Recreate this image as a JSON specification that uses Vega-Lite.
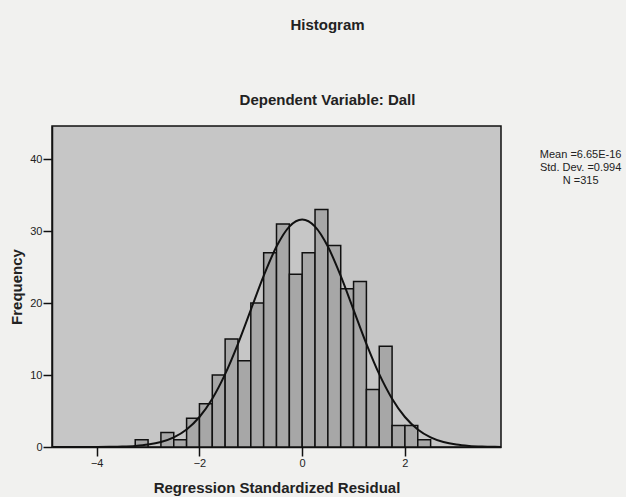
{
  "$schema": "https://vega.github.io/schema/vega-lite/v6.json",
  "width": 449,
  "height": 321,
  "autosize": "none",
  "padding": {"left": 52, "top": 126, "right": 125, "bottom": 50},
  "background": "#f1f1ef",
  "config": {
    "view": {"fill": "#c6c6c6", "stroke": "#111111", "strokeWidth": 1.5},
    "font": "Liberation Sans"
  },
  "title": {
    "text": "Histogram",
    "subtitle": "Dependent Variable: Dall",
    "anchor": "middle",
    "dx": 51,
    "fontSize": 15,
    "fontWeight": "bold",
    "color": "#222222",
    "subtitleFontSize": 15,
    "subtitleFontWeight": "bold",
    "subtitleColor": "#222222",
    "subtitleFont": "Liberation Sans",
    "subtitlePadding": 60,
    "offset": 18
  },
  "datasets": {
    "bins": [
      {"bin_start": -3.25, "bin_end": -3.0, "count": 1},
      {"bin_start": -2.75, "bin_end": -2.5, "count": 2},
      {"bin_start": -2.5, "bin_end": -2.25, "count": 1},
      {"bin_start": -2.25, "bin_end": -2.0, "count": 4},
      {"bin_start": -2.0, "bin_end": -1.75, "count": 6},
      {"bin_start": -1.75, "bin_end": -1.5, "count": 10},
      {"bin_start": -1.5, "bin_end": -1.25, "count": 15},
      {"bin_start": -1.25, "bin_end": -1.0, "count": 12},
      {"bin_start": -1.0, "bin_end": -0.75, "count": 20},
      {"bin_start": -0.75, "bin_end": -0.5, "count": 27},
      {"bin_start": -0.5, "bin_end": -0.25, "count": 31},
      {"bin_start": -0.25, "bin_end": 0.0, "count": 24},
      {"bin_start": 0.0, "bin_end": 0.25, "count": 27},
      {"bin_start": 0.25, "bin_end": 0.5, "count": 33},
      {"bin_start": 0.5, "bin_end": 0.75, "count": 28},
      {"bin_start": 0.75, "bin_end": 1.0, "count": 22},
      {"bin_start": 1.0, "bin_end": 1.25, "count": 23},
      {"bin_start": 1.25, "bin_end": 1.5, "count": 8},
      {"bin_start": 1.5, "bin_end": 1.75, "count": 14},
      {"bin_start": 1.75, "bin_end": 2.0, "count": 3},
      {"bin_start": 2.0, "bin_end": 2.25, "count": 3},
      {"bin_start": 2.25, "bin_end": 2.5, "count": 1}
    ],
    "curve": [
      {"residual": -4.87, "freq": 0.0002},
      {"residual": -4.5, "freq": 0.0011},
      {"residual": -4.25, "freq": 0.0034},
      {"residual": -4.0, "freq": 0.0096},
      {"residual": -3.75, "freq": 0.026},
      {"residual": -3.5, "freq": 0.064},
      {"residual": -3.25, "freq": 0.151},
      {"residual": -3.0, "freq": 0.332},
      {"residual": -2.75, "freq": 0.688},
      {"residual": -2.5, "freq": 1.337},
      {"residual": -2.25, "freq": 2.44},
      {"residual": -2.0, "freq": 4.17},
      {"residual": -1.75, "freq": 6.71},
      {"residual": -1.5, "freq": 10.12},
      {"residual": -1.25, "freq": 14.33},
      {"residual": -1.0, "freq": 19.05},
      {"residual": -0.75, "freq": 23.77},
      {"residual": -0.5, "freq": 27.85},
      {"residual": -0.25, "freq": 30.62},
      {"residual": 0.0, "freq": 31.6},
      {"residual": 0.25, "freq": 30.62},
      {"residual": 0.5, "freq": 27.85},
      {"residual": 0.75, "freq": 23.77},
      {"residual": 1.0, "freq": 19.05},
      {"residual": 1.25, "freq": 14.33},
      {"residual": 1.5, "freq": 10.12},
      {"residual": 1.75, "freq": 6.71},
      {"residual": 2.0, "freq": 4.17},
      {"residual": 2.25, "freq": 2.44},
      {"residual": 2.5, "freq": 1.337},
      {"residual": 2.75, "freq": 0.688},
      {"residual": 3.0, "freq": 0.332},
      {"residual": 3.25, "freq": 0.151},
      {"residual": 3.5, "freq": 0.064},
      {"residual": 3.75, "freq": 0.026},
      {"residual": 3.87, "freq": 0.016}
    ],
    "stats": [
      {"label": "Mean =6.65E-16\nStd. Dev. =0.994\nN =315"}
    ]
  },
  "layer": [
    {
      "data": {"name": "bins"},
      "mark": {"type": "bar", "fill": "#a7a7a7", "stroke": "#111111", "strokeWidth": 1.5},
      "encoding": {
        "x": {
          "field": "bin_start",
          "type": "quantitative",
          "scale": {"domain": [-4.87, 3.87], "nice": false, "zero": false},
          "axis": {
            "values": [-4, -2, 0, 2],
            "title": "Regression Standardized Residual",
            "titleFontSize": 15,
            "titleFontWeight": "bold",
            "titleColor": "#222222",
            "titlePadding": 12,
            "labelFontSize": 11,
            "labelColor": "#222222",
            "labelPadding": 1,
            "tickSize": 9,
            "tickColor": "#111111",
            "tickWidth": 1.5,
            "domainColor": "#111111",
            "domainWidth": 1.5,
            "grid": false
          }
        },
        "x2": {"field": "bin_end"},
        "y": {
          "field": "count",
          "type": "quantitative",
          "scale": {"domain": [0, 44.6], "nice": false},
          "axis": {
            "values": [0, 10, 20, 30, 40],
            "title": "Frequency",
            "titleFontSize": 15,
            "titleFontWeight": "bold",
            "titleColor": "#222222",
            "titlePadding": 5,
            "labelFontSize": 11,
            "labelColor": "#222222",
            "labelPadding": 1,
            "tickSize": 9,
            "tickColor": "#111111",
            "tickWidth": 1.5,
            "domainColor": "#111111",
            "domainWidth": 1.5,
            "grid": false
          }
        },
        "y2": {"datum": 0}
      }
    },
    {
      "data": {"name": "curve"},
      "mark": {"type": "line", "stroke": "#111111", "strokeWidth": 2, "interpolate": "monotone", "clip": true},
      "encoding": {
        "x": {"field": "residual", "type": "quantitative"},
        "y": {"field": "freq", "type": "quantitative"}
      }
    },
    {
      "data": {"name": "stats"},
      "mark": {
        "type": "text",
        "font": "Liberation Sans Narrow, Liberation Sans",
        "fontSize": 11,
        "lineHeight": 13,
        "align": "center",
        "baseline": "top",
        "lineBreak": "\n",
        "color": "#222222",
        "clip": false
      },
      "encoding": {
        "x": {"datum": 5.42, "type": "quantitative"},
        "y": {"datum": 41.4, "type": "quantitative"},
        "text": {"field": "label"}
      }
    }
  ]
}
